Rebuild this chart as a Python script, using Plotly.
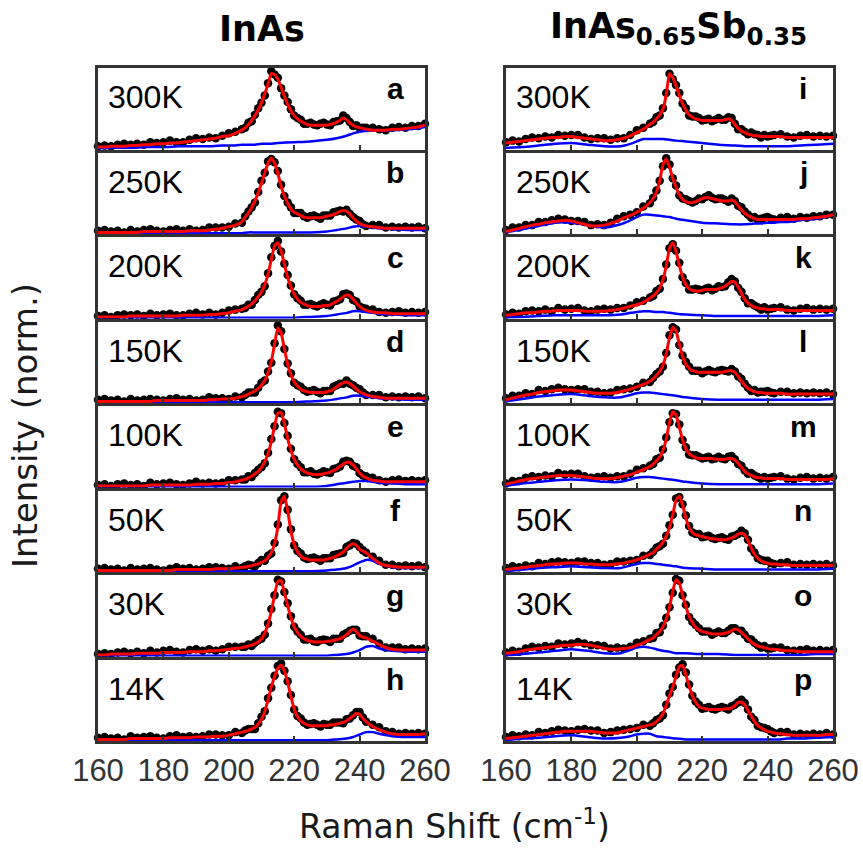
import plotly.graph_objects as go
from plotly.subplots import make_subplots

# ---------------- data (intensity, % of panel full scale) ----------------
wavenumber = [160, 162, 164, 166, 168, 170, 172, 174, 176, 178, 180, 182, 184, 186, 188, 190, 192, 194, 196, 198, 200, 202, 204,
              205, 206, 207, 208, 209, 210, 211, 212, 213, 214, 215, 216, 217, 218, 219, 220, 221, 222, 223, 224, 225, 226, 227,
              228, 229, 230, 231, 232, 233, 234, 235, 236, 237, 238, 239, 240, 241, 242,
              244, 246, 248, 250, 252, 254, 256, 258, 260]
comp_wavenumber = [160, 165, 170, 175, 180, 185, 190, 195, 198, 200, 202, 204, 206, 208, 210, 212, 215, 220, 225, 230,
                   233, 236, 238, 240, 242, 244, 246, 250, 255, 260]
temperatures = ["300K", "250K", "200K", "150K", "100K", "50K", "30K", "14K"]
letters_inas = ["a", "b", "c", "d", "e", "f", "g", "h"]
letters_sb = ["i", "j", "k", "l", "m", "n", "o", "p"]
tick_values = [160, 180, 200, 220, 240, 260]

# InAs
inas_300_fit = [2,2,3,3,3,4,4,5,5,6,6,7,7,8,9,10,11,12,13,15,16,19,23,
                26,30,35,41,48,57,68,80,93,92,86,76,65,55,47,41,37,34,32,30,29,29,29,29,29,29,30,31,33,35,38,36,32,29,27,26,25,24,
                23,23,23,24,24,25,26,27,29]
inas_300_obs = [3,4,3,5,6,5,6,5,8,7,8,10,8,8,11,13,12,14,13,16,19,21,24,
                26,32,34,42,50,57,66,81,96,92,88,75,66,58,49,41,38,36,31,31,32,30,29,31,32,30,29,33,34,35,41,38,33,28,29,26,26,26,
                26,24,23,26,27,26,28,28,31]
inas_300_comp = [0,1,1,2,2,3,3,3,4,4,4,5,5,5,6,6,7,8,9,11,13,16,19,21,22,23,23,23,24,27]

inas_250_fit = [1,1,1,1,1,1,1,2,2,2,2,2,2,2,3,3,3,4,5,6,8,10,14,
                20,25,32,40,50,62,75,87,93,87,74,58,46,37,30,26,24,22,20,19,19,19,19,19,20,21,22,23,25,27,28,27,24,19,15,12,10,9,
                8,7,6,6,6,6,6,6,6]
inas_250_obs = [3,4,2,3,1,4,2,4,5,3,2,4,5,3,5,3,4,7,7,7,8,12,13,
                21,27,32,38,51,65,75,89,92,88,77,60,46,38,32,25,25,25,21,19,21,22,20,18,22,22,22,26,27,28,27,29,24,20,17,15,11,9,
                10,10,7,8,7,8,7,8,6]
inas_250_comp = [0,0,0,0,0,0,0,0,0,0,0,0,1,1,1,1,1,1,1,2,4,6,8,9,8,7,6,5,4,4]

inas_200_fit = [1,1,1,1,1,2,2,2,2,2,2,2,2,3,3,3,3,4,4,5,6,8,10,
                12,14,17,21,26,32,41,54,72,89,93,83,66,50,38,29,23,19,17,15,14,14,14,14,15,15,16,18,20,23,26,28,27,23,18,14,11,9,
                7,6,6,5,5,5,5,5,5]
inas_200_obs = [2,3,1,3,4,3,4,2,5,3,4,5,3,3,5,6,4,6,4,6,9,10,11,
                12,16,16,22,28,32,39,55,75,89,95,82,67,53,40,29,24,21,16,16,17,15,14,16,18,16,15,20,21,23,29,30,28,22,20,14,12,11,
                10,7,6,7,8,6,7,6,7]
inas_200_comp = [0,0,0,0,0,0,0,0,0,0,0,0,0,0,0,0,0,0,1,2,4,6,8,8,7,6,5,4,3,3]

inas_150_fit = [1,1,1,1,1,1,1,1,1,2,2,2,2,2,2,2,2,3,3,4,4,5,7,
                8,10,12,14,17,21,27,36,50,72,92,86,66,47,34,25,20,16,14,13,12,12,12,12,12,13,14,16,19,22,24,25,23,20,16,13,11,9,
                7,6,5,5,5,5,5,5,5]
inas_150_obs = [3,4,2,3,1,4,2,3,4,3,2,4,5,3,4,2,3,6,5,5,4,7,6,
                9,12,12,12,18,24,27,38,49,73,95,88,66,48,36,24,21,19,15,13,14,15,13,11,14,14,14,19,21,23,23,27,23,21,18,16,12,9,
                9,9,6,7,6,7,6,7,5]
inas_150_comp = [0,0,0,0,0,0,0,0,0,0,0,0,0,0,0,0,0,0,1,2,4,6,8,8,7,6,5,4,3,3]

inas_100_fit = [1,1,1,1,1,1,1,1,2,2,2,2,2,2,2,3,3,3,4,4,5,6,8,
                9,11,13,16,19,24,31,41,56,75,91,92,78,60,45,34,27,22,19,17,16,15,15,15,16,17,18,20,22,25,28,30,30,27,22,17,13,11,
                8,7,6,6,6,6,6,6,6]
inas_100_obs = [2,3,1,3,4,2,3,1,5,3,4,5,3,2,4,6,4,5,4,5,8,8,9,
                9,13,12,17,21,24,29,42,59,75,93,91,79,63,47,34,28,24,18,18,19,16,15,17,19,18,17,22,23,25,31,32,31,26,24,17,14,13,
                11,8,6,8,9,7,8,7,8]
inas_100_comp = [0,0,0,0,0,0,0,0,0,0,0,0,0,0,0,0,0,0,0,1,3,5,6,7,7,6,5,4,3,3]

inas_50_fit = [1,1,1,1,1,1,1,1,1,1,1,1,2,2,2,2,2,2,3,3,3,4,5,
               5,6,7,8,9,11,13,17,23,34,55,86,93,75,50,33,24,19,16,15,14,14,14,14,14,15,16,17,19,21,24,28,32,34,32,27,25,23,
               16,10,7,6,5,5,5,5,5]
inas_50_obs = [3,4,2,3,1,4,2,3,4,2,1,3,5,3,4,2,3,5,5,4,3,6,4,
               6,8,7,6,10,14,13,19,22,35,58,88,93,76,52,32,25,22,17,15,16,17,15,13,16,16,16,20,21,22,23,30,32,35,34,30,26,23,
               18,13,8,8,6,7,6,7,5]
inas_50_comp = [0,0,0,0,0,0,0,0,0,0,0,0,0,0,0,0,0,0,0,1,2,4,7,11,14,13,9,5,4,4]

inas_30_fit = [1,1,2,2,2,2,3,3,3,3,4,4,4,4,5,5,5,6,6,7,8,9,10,
               11,12,13,15,17,21,28,39,55,75,92,93,78,62,47,36,29,24,21,19,18,17,17,17,17,18,18,19,20,21,23,26,30,33,30,25,23,22,
               18,14,10,8,7,7,7,7,7]
inas_30_obs = [2,3,2,4,5,3,5,3,6,4,6,7,5,4,7,8,6,8,6,8,11,11,11,
               11,14,12,16,19,21,26,40,58,75,94,92,79,65,49,36,30,26,20,20,21,18,17,19,20,19,17,21,21,21,26,28,31,32,32,25,24,24,
               21,15,10,10,10,8,9,8,9]
inas_30_comp = [0,0,0,0,0,0,0,0,0,0,0,0,0,0,0,0,0,0,0,0,1,2,4,7,11,12,9,6,5,5]

inas_14_fit = [1,1,1,1,1,2,2,2,2,2,2,3,3,3,3,4,4,4,5,5,6,8,10,
               11,12,14,16,20,26,36,50,66,79,89,93,86,72,54,39,29,24,21,19,18,18,18,18,18,18,19,19,20,21,22,24,27,30,33,32,27,23,
               17,13,10,8,7,7,7,7,8]
inas_14_obs = [3,4,2,3,1,5,3,4,5,3,2,5,6,4,5,4,5,7,7,6,6,10,9,
               12,14,14,14,21,29,36,52,65,80,92,95,86,73,56,38,30,27,22,19,20,21,19,17,20,19,19,22,22,22,21,26,27,31,35,35,28,23,
               19,16,11,10,8,9,8,9,8]
inas_14_comp = [0,0,0,0,0,0,0,0,0,0,0,0,0,0,0,0,0,0,0,0,1,2,4,7,10,10,8,5,4,4]

# InAs0.65Sb0.35
sb_300_fit = [7,8,9,10,11,12,13,14,14,15,15,14,13,12,11,10,10,11,13,16,20,24,30,
              33,37,42,49,67,93,88,78,66,56,48,42,39,37,36,35,35,35,35,35,35,35,36,37,35,30,25,22,20,18,17,16,16,15,15,15,15,15,
              15,14,14,14,14,14,14,14,14]
sb_300_obs = [8,10,9,12,14,13,15,14,17,16,17,17,14,12,13,13,11,13,13,17,23,26,31,
              33,39,41,50,69,93,86,79,69,56,50,41,40,40,38,35,36,37,34,36,38,36,36,39,38,31,24,24,21,18,20,18,17,14,17,15,16,17,
              18,15,14,16,17,15,16,15,16]
sb_300_comp = [1,2,4,6,7,5,3,3,6,9,12,12,12,12,11,10,9,7,5,4,3,3,3,3,3,3,3,4,5,6]

sb_250_fit = [2,4,6,8,10,11,13,14,15,16,15,13,11,9,9,10,12,15,19,22,26,31,38,
              43,51,65,85,92,82,68,57,48,42,39,38,38,39,41,43,44,44,43,42,41,40,40,40,41,39,34,29,25,22,20,18,17,17,17,17,17,17,
              17,17,17,18,18,19,20,21,23]
sb_250_obs = [4,7,7,10,10,14,14,16,18,17,15,15,14,10,11,10,13,18,21,23,26,33,37,
              44,53,65,83,93,85,68,59,47,43,42,40,38,40,43,42,45,47,44,42,43,43,41,39,43,40,34,32,27,23,19,20,17,18,19,20,18,17,
              19,20,18,20,19,21,21,23,23]
sb_250_comp = [1,5,9,13,13,10,7,11,16,20,23,23,22,21,20,18,16,13,12,11,11,12,12,13,13,14,14,16,18,23]

sb_200_fit = [3,4,5,6,6,7,8,8,9,9,9,9,8,8,8,8,9,10,12,14,16,19,24,
              27,31,37,47,64,86,93,82,65,50,41,36,34,33,33,34,35,35,35,35,36,37,39,42,45,44,38,30,23,18,15,13,12,11,11,10,10,10,
              10,9,9,9,9,9,9,9,9]
sb_200_obs = [4,6,5,8,9,8,10,8,12,10,11,12,9,8,10,11,10,12,12,15,19,21,25,
              27,33,36,48,66,86,91,83,68,50,43,35,35,36,35,34,36,37,34,36,39,38,39,44,48,45,37,32,24,18,18,15,13,10,13,10,11,12,
              13,10,9,11,12,10,11,10,11]
sb_200_comp = [0,1,2,3,3,3,3,4,6,7,8,8,7,7,6,5,4,3,2,2,2,2,2,2,2,2,2,2,2,3]

sb_150_fit = [3,5,7,9,10,12,13,14,15,15,15,14,13,12,11,11,11,12,14,16,19,22,26,
              29,33,38,46,60,80,93,88,72,57,47,42,39,38,37,37,37,37,37,37,37,37,38,39,39,37,32,26,21,17,15,13,12,12,11,11,11,11,
              11,10,10,10,10,10,10,10,10]
sb_150_obs = [5,8,8,11,10,15,14,16,18,16,15,16,16,13,13,11,12,15,16,17,19,24,25,
              30,35,38,44,61,83,93,90,71,58,50,44,39,39,39,36,38,40,38,37,39,40,39,38,41,38,32,29,23,18,14,15,12,13,13,14,12,11,
              13,13,11,12,11,12,11,12,10]
sb_150_comp = [1,4,7,9,10,8,6,6,9,11,12,12,11,10,9,8,6,4,3,3,3,3,3,3,3,3,3,3,3,4]

sb_100_fit = [3,5,7,9,10,11,12,13,14,14,14,13,12,11,10,10,10,11,13,15,18,21,25,
              28,32,37,45,59,80,93,89,74,58,47,41,38,36,35,35,35,35,35,34,34,34,34,35,35,33,29,24,19,16,14,12,11,11,10,10,10,10,
              10,9,9,9,9,9,9,9,10]
sb_100_obs = [4,7,7,11,13,12,14,13,17,15,16,16,13,11,12,13,11,13,13,16,21,23,26,
              28,34,36,46,61,80,91,90,77,58,49,40,39,39,37,35,36,37,34,35,37,35,34,37,38,34,28,26,20,16,17,14,12,10,12,10,11,12,
              13,10,9,11,12,10,11,10,12]
sb_100_comp = [1,4,6,8,9,8,6,6,9,11,12,12,11,10,9,8,6,4,3,3,3,3,3,3,3,3,3,3,3,4]

sb_50_fit = [2,3,4,5,6,7,8,9,9,10,10,10,9,9,8,8,8,9,10,12,14,17,21,
             23,27,31,36,43,54,70,88,93,82,66,54,48,45,44,43,42,41,40,40,39,39,39,40,41,43,46,47,45,38,29,21,16,13,11,10,9,9,
             8,8,7,7,7,7,7,7,7]
sb_50_obs = [4,6,5,7,6,10,9,11,12,11,10,12,12,10,10,8,9,12,12,13,14,19,20,
             24,29,31,34,44,57,70,90,92,83,69,56,48,46,46,42,43,44,41,40,41,42,40,39,43,44,46,50,47,39,28,23,16,14,13,13,10,9,
             10,11,8,9,8,9,8,9,7]
sb_50_comp = [0,2,4,5,6,5,4,4,7,9,10,10,9,8,7,6,4,3,2,2,2,2,2,2,2,2,2,2,2,3]

sb_30_fit = [3,4,5,7,8,9,10,11,12,13,13,14,14,13,11,9,8,8,9,10,13,16,20,
             22,26,30,36,45,60,80,94,90,75,61,49,41,35,32,30,29,28,27,27,27,27,28,29,31,33,32,29,25,21,17,14,12,11,10,9,8,8,
             7,6,6,5,5,5,5,5,5]
sb_30_obs = [4,6,5,9,11,10,12,11,15,14,15,17,15,13,13,12,9,10,9,11,16,18,21,
             22,28,29,37,47,60,78,95,93,75,63,48,42,38,34,30,30,30,26,28,30,28,28,31,34,34,31,31,26,21,20,16,13,10,12,9,9,10,
             10,7,6,7,8,6,7,6,7]
sb_30_comp = [0,2,4,6,8,6,3,3,7,10,11,10,8,6,5,3,3,2,2,1,1,1,1,1,1,1,1,1,2,2]

sb_14_fit = [2,3,4,5,6,7,8,9,10,11,11,11,11,11,10,9,9,9,11,13,15,17,19,
             20,23,27,33,43,55,66,79,91,93,81,67,55,47,42,40,39,38,38,38,38,38,39,39,40,43,47,47,44,37,30,23,18,15,13,11,10,9,
             8,7,6,6,6,6,6,7,7]
sb_14_obs = [4,6,5,7,6,10,9,11,13,12,11,13,14,12,12,9,10,12,13,14,15,19,18,
             21,25,27,31,44,58,66,81,90,94,84,69,55,48,44,39,40,41,39,38,40,41,40,38,42,44,47,50,46,38,29,25,18,16,15,14,11,9,
             10,10,7,8,7,8,7,9,7]
sb_14_comp = [0,2,3,5,6,4,2,3,5,7,8,8,5,4,3,2,1,1,1,1,1,1,1,1,1,1,2,2,3,4]

inas_obs = [inas_300_obs, inas_250_obs, inas_200_obs, inas_150_obs, inas_100_obs, inas_50_obs, inas_30_obs, inas_14_obs]
inas_fit = [inas_300_fit, inas_250_fit, inas_200_fit, inas_150_fit, inas_100_fit, inas_50_fit, inas_30_fit, inas_14_fit]
inas_comp = [inas_300_comp, inas_250_comp, inas_200_comp, inas_150_comp, inas_100_comp, inas_50_comp, inas_30_comp, inas_14_comp]
sb_obs = [sb_300_obs, sb_250_obs, sb_200_obs, sb_150_obs, sb_100_obs, sb_50_obs, sb_30_obs, sb_14_obs]
sb_fit = [sb_300_fit, sb_250_fit, sb_200_fit, sb_150_fit, sb_100_fit, sb_50_fit, sb_30_fit, sb_14_fit]
sb_comp = [sb_300_comp, sb_250_comp, sb_200_comp, sb_150_comp, sb_100_comp, sb_50_comp, sb_30_comp, sb_14_comp]

# ---------------- figure ----------------
W, H = 863, 850
ML, MR, MT, MB = 98, 30, 68, 109
PW, PH = W - ML - MR, H - MT - MB

fig = make_subplots(rows=8, cols=2, horizontal_spacing=81 / PW, vertical_spacing=3 / PH)

AX = "#333333"
annotations = []
for r in range(8):
    for c in range(2):
        obs = inas_obs[r] if c == 0 else sb_obs[r]
        fit = inas_fit[r] if c == 0 else sb_fit[r]
        comp = inas_comp[r] if c == 0 else sb_comp[r]
        letter = letters_inas[r] if c == 0 else letters_sb[r]
        fig.add_trace(go.Scatter(x=wavenumber, y=obs, mode="markers",
                                 marker=dict(color="black", size=8.5, line=dict(width=0)),
                                 cliponaxis=False, showlegend=False, hoverinfo="skip"),
                      row=r + 1, col=c + 1)
        fig.add_trace(go.Scatter(x=comp_wavenumber, y=comp, mode="lines",
                                 line=dict(color="#0000FF", width=2.5, shape="spline", smoothing=0.6),
                                 showlegend=False, hoverinfo="skip"),
                      row=r + 1, col=c + 1)
        fig.add_trace(go.Scatter(x=wavenumber, y=fit, mode="lines",
                                 line=dict(color="#FF0000", width=3, shape="spline", smoothing=0.5),
                                 showlegend=False, hoverinfo="skip"),
                      row=r + 1, col=c + 1)
        n = r * 2 + c + 1
        suffix = "" if n == 1 else str(n)
        annotations.append(dict(xref=f"x{suffix} domain", yref=f"y{suffix} domain", x=0, y=1,
                                xanchor="left", yanchor="middle", xshift=8, yshift=-29,
                                text=temperatures[r], showarrow=False,
                                font=dict(family="Liberation Sans, Arial", size=32, color="black")))
        annotations.append(dict(xref=f"x{suffix} domain", yref=f"y{suffix} domain", x=1, y=1,
                                xanchor="center", yanchor="middle", xshift=-30, yshift=-20,
                                text=f"<b>{letter}</b>", showarrow=False,
                                font=dict(family="Liberation Sans, Arial", size=30, color="black")))

# column titles and axis titles
annotations.append(dict(xref="paper", yref="paper", x=(262 - ML) / PW, y=1 + (MT - 29) / PH,
                        xanchor="center", yanchor="middle", text="<b>InAs</b>", showarrow=False,
                        font=dict(family="DejaVu Sans", size=35, color="black")))
annotations.append(dict(xref="paper", yref="paper", x=(548 - ML) / PW, y=1 + (MT - 29) / PH,
                        xanchor="left", yanchor="middle",
                        text="<b>InAs<sub>0.65</sub>Sb<sub>0.35</sub></b>", showarrow=False,
                        font=dict(family="DejaVu Sans", size=35, color="black")))
annotations.append(dict(xref="paper", yref="paper", x=(25 - ML) / PW, y=(H - MB - 426) / PH,
                        xanchor="center", yanchor="middle", textangle=-90,
                        text="Intensity (norm.)", showarrow=False,
                        font=dict(family="DejaVu Sans", size=34, color="#1a1a1a")))
annotations.append(dict(xref="paper", yref="paper", x=(454 - ML) / PW, y=(H - MB - 824) / PH,
                        xanchor="center", yanchor="middle",
                        text="Raman Shift (cm<sup>-1</sup>)", showarrow=False,
                        font=dict(family="DejaVu Sans", size=33, color="#1a1a1a")))

fig.update_xaxes(range=[160, 260], showline=True, mirror=True, linecolor=AX, linewidth=2.5,
                 ticks="inside", ticklen=5, tickwidth=1.5, tickcolor=AX, tickvals=tick_values,
                 showticklabels=False, showgrid=False, zeroline=False,
                 tickfont=dict(family="Liberation Sans, Arial", size=31, color="#333333"))
fig.update_xaxes(showticklabels=True, row=8)
fig.update_yaxes(range=[-1, 100], showline=True, mirror=True, linecolor=AX, linewidth=2.5,
                 ticks="", showticklabels=False, showgrid=False, zeroline=False)

fig.update_layout(width=W, height=H, margin=dict(l=ML, r=MR, t=MT, b=MB, autoexpand=False),
                  paper_bgcolor="white", plot_bgcolor="white", annotations=annotations,
                  showlegend=False)

fig.write_html("out.html", config={"displayModeBar": False},
               post_script="document.body.style.margin='0';document.body.style.overflow='hidden';")
